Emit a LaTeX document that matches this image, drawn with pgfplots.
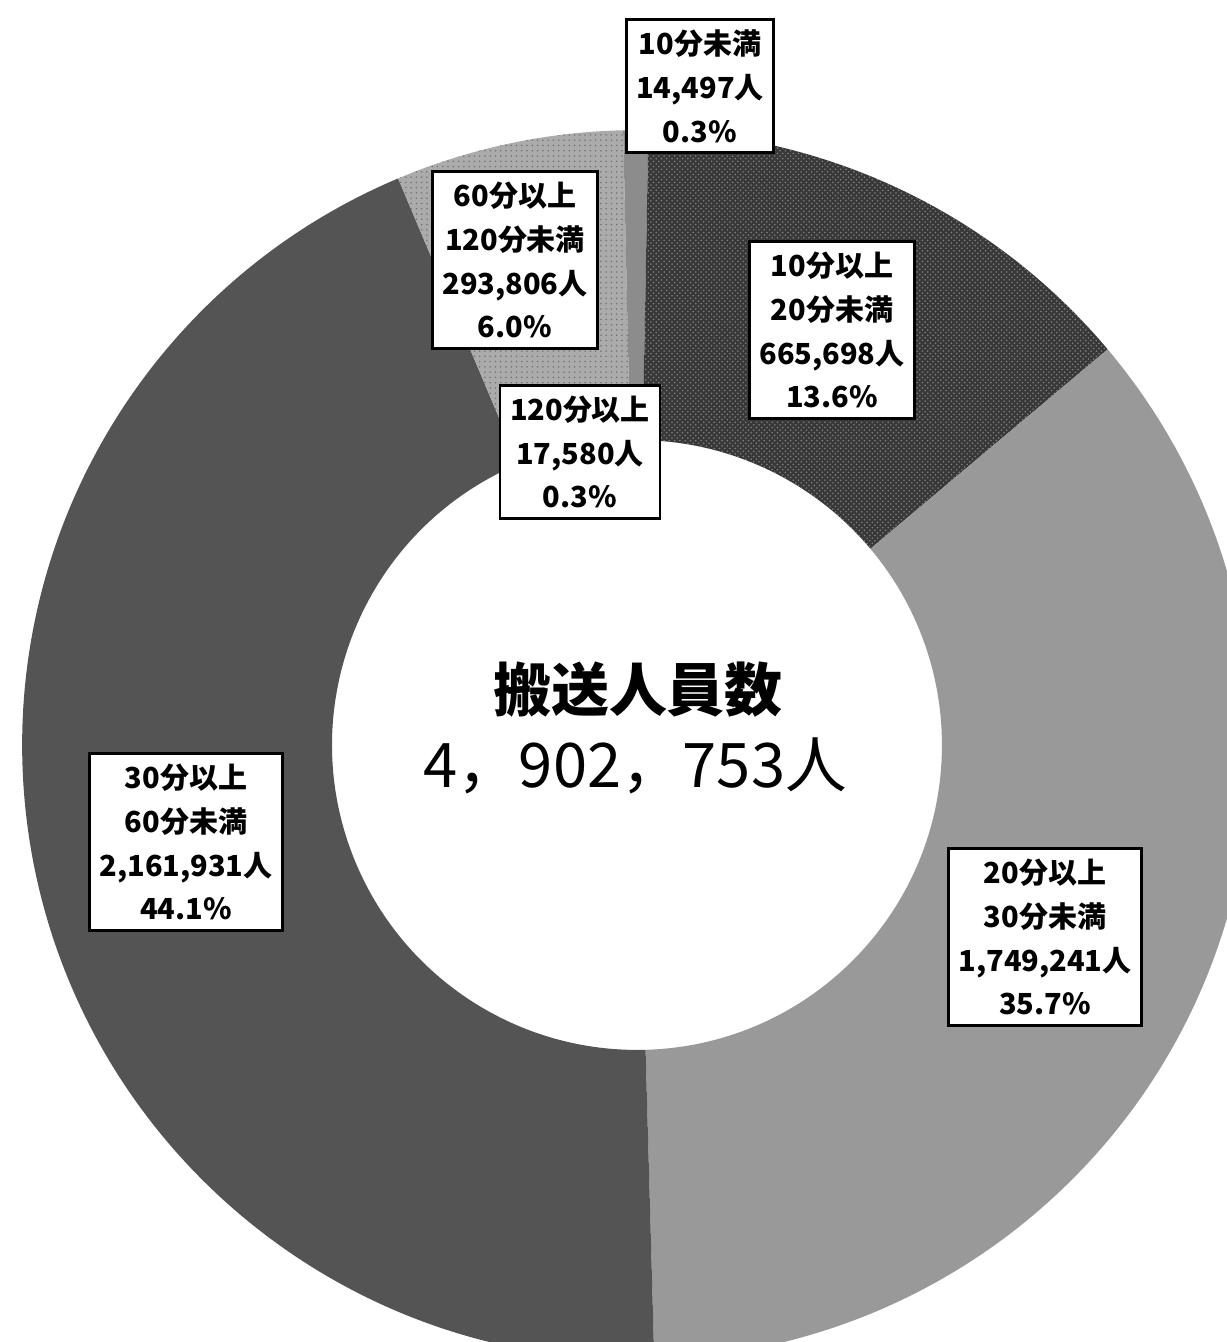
\documentclass[border=0pt]{standalone}
\usepackage{pgfplots}
\pgfplotsset{compat=1.18}
\usepackage{pgfplotstable}
\usepackage{fontspec}
\setmainfont{Noto Sans CJK JP}
\usetikzlibrary{patterns}
\pgfplotstableread{
v
14497
665698
1749241
2161931
293806
17580
}\datatable
\gdef\acc{0}
\pgfplotstableforeachcolumnelement{v}\of\datatable\as\v{%
  \expandafter\xdef\csname angS\pgfplotstablerow\endcsname{\fpeval{90-360*\acc/4902753}}%
  \xdef\acc{\fpeval{\acc+\v}}%
  \expandafter\xdef\csname angE\pgfplotstablerow\endcsname{\fpeval{90-360*\acc/4902753}}%
}
\newcommand\ring[2]{%
  \edef\s{\csname angS#1\endcsname}\edef\e{\csname angE#1\endcsname}%
  \edef\tmp{\noexpand\fill[#2] ([shift={(\s:12.3cm)}]axis cs:637,597) arc[start angle=\s,end angle=\e,radius=12.3cm] -- ([shift={(\e:6.1cm)}]axis cs:637,597) arc[start angle=\e,end angle=\s,radius=6.1cm] -- cycle;}%
  \tmp}
\begin{document}
\begin{tikzpicture}[
  lbl/.style={draw=black,line width=1.5pt,fill=white,align=center,inner xsep=0.2cm,inner ysep=0.2cm,
    font=\bfseries\fontsize{16.5}{25}\selectfont}]
\begin{axis}[hide axis, scale only axis, x=0.02cm, y=0.02cm,
  xmin=0, xmax=1227, ymin=0, ymax=1342, enlargelimits=false, clip=true, name=ax]
\ring{0}{fill=black!45}
\ring{1}{fill=black!78}
\ring{1}{pattern=crosshatch dots, pattern color=black!50}
\ring{2}{fill=black!40}
\ring{3}{fill=black!67}
\ring{4}{fill=black!33}
\ring{4}{pattern=dots, pattern color=black!55}
\ring{5}{fill=black!45}
\node[lbl] at (axis cs:700,1256) {10分未満\\14,497人\\0.3\%};
\node[lbl] at (axis cs:832,1012) {10分以上\\20分未満\\665,698人\\13.6\%};
\node[lbl] at (axis cs:515,1082) {60分以上\\120分未満\\293,806人\\6.0\%};
\node[lbl] at (axis cs:580,890) {120分以上\\17,580人\\0.3\%};
\node[lbl] at (axis cs:186,500) {30分以上\\60分未満\\2,161,931人\\44.1\%};
\node[lbl] at (axis cs:1045,405) {20分以上\\30分未満\\1,749,241人\\35.7\%};
\node[font=\bfseries\fontsize{33}{40}\selectfont] at (axis cs:638,652) {搬送人員数};
\node[font=\fontsize{35}{42}\selectfont] at (axis cs:635,576) {4，902，753人};
\end{axis}
\pgfresetboundingbox
\path (ax.south west) rectangle (ax.north east);
\end{tikzpicture}
\end{document}
